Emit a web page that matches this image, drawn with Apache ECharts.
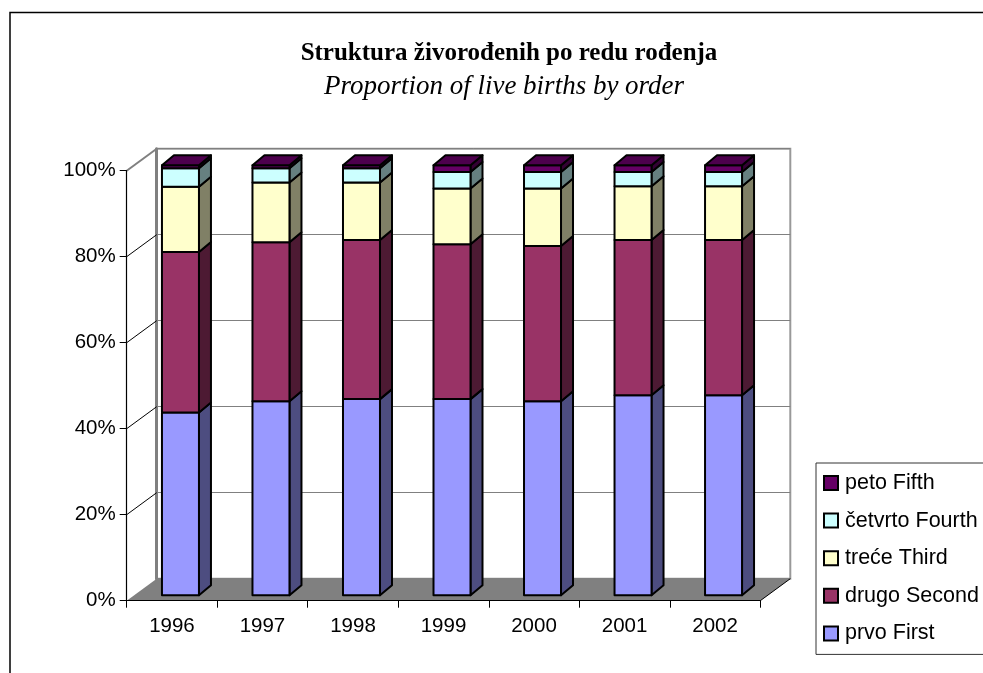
<!DOCTYPE html>
<html>
<head>
<meta charset="utf-8">
<title>Struktura živorođenih po redu rođenja</title>
<style>
html,body{margin:0;padding:0;background:#fff;overflow:hidden}
#main{width:983px;height:673px}
</style>
<script src="https://cdn.jsdelivr.net/npm/echarts@6/dist/echarts.min.js"></script>
</head>
<body>
<div id="main"></div>
<script>
// godine
var years = ['1996', '1997', '1998', '1999', '2000', '2001', '2002'];
// udio po redu rodjenja, %
var prvo = [42.5, 45.1, 45.6, 45.6, 45.1, 46.5, 46.5];
var drugo = [37.3, 37.0, 37.0, 36.0, 36.1, 36.1, 36.1];
var trece = [15.2, 13.9, 13.4, 13.0, 13.4, 12.5, 12.5];
var cetvrto = [4.3, 3.3, 3.3, 3.8, 3.8, 3.3, 3.3];
var peto = [0.7, 0.7, 0.7, 1.6, 1.6, 1.6, 1.6];
var valueTicks = [0, 20, 40, 60, 80, 100];

var barDefs = [
    {name: 'prvo First', values: prvo, color: '#9999ff', side: '#4d4d80', top: '#4d4d80'},
    {name: 'drugo Second', values: drugo, color: '#993366', side: '#4d1a33', top: '#4d1a33'},
    {name: 'treće Third', values: trece, color: '#ffffcc', side: '#808066', top: '#808066'},
    {name: 'četvrto Fourth', values: cetvrto, color: '#ccffff', side: '#668080', top: '#668080'},
    {name: 'peto Fifth', values: peto, color: '#660066', side: '#330033', top: '#4d004d'}
];

// 3d pomaci u pikselima
var wallDx = 30, wallDy = -22;
var barShiftX = 8.5, barShiftY = -5.5, barWidth = 37, barDx = 12, barDy = -10;

function barSeries(def, index) {
    var data = [];
    for (var i = 0; i < years.length; i++) {
        var low = 0;
        for (var j = 0; j < index; j++) {
            low += barDefs[j].values[i];
        }
        data.push([i, low, low + def.values[i]]);
    }
    return {
        name: def.name,
        type: 'custom',
        xAxisIndex: 0,
        yAxisIndex: 0,
        z: 3,
        silent: true,
        clip: false,
        itemStyle: {color: def.color, borderColor: '#000', borderWidth: 1.5},
        encode: {x: 0, y: [1, 2]},
        data: data,
        renderItem: function (params, api) {
            var lo = api.coord([api.value(0), api.value(1)]);
            var hi = api.coord([api.value(0), api.value(2)]);
            var x0 = lo[0] + barShiftX - barWidth / 2;
            var x1 = x0 + barWidth;
            var y0 = lo[1] + barShiftY;
            var y1 = hi[1] + barShiftY;
            var line = {stroke: '#000', lineWidth: 2, lineJoin: 'round'};
            var kids = [
                {type: 'polygon', shape: {points: [[x1, y0], [x1 + barDx, y0 + barDy], [x1 + barDx, y1 + barDy], [x1, y1]]},
                    style: Object.assign({fill: def.side}, line)},
                {type: 'polygon', shape: {points: [[x0, y0], [x1, y0], [x1, y1], [x0, y1]]},
                    style: Object.assign({fill: def.color}, line)}
            ];
            if (index == barDefs.length - 1) {
                kids.push({type: 'polygon', shape: {points: [[x0, y1], [x1, y1], [x1 + barDx, y1 + barDy], [x0 + barDx, y1 + barDy]]},
                    style: Object.assign({fill: def.top}, line)});
            }
            return {type: 'group', children: kids};
        }
    };
}

var legendNames = [];
for (var k = barDefs.length - 1; k >= 0; k--) {
    legendNames.push(barDefs[k].name);
}

var series = [
    // pod
    {
        type: 'custom',
        xAxisIndex: 0,
        yAxisIndex: 0,
        z: 1,
        silent: true,
        clip: false,
        data: [[0]],
        renderItem: function (params, api) {
            var half = api.size([1, 0])[0] / 2;
            var a = api.coord([0, 0]);
            var b = api.coord([years.length - 1, 0]);
            a = [a[0] - half, a[1]];
            b = [b[0] + half, b[1]];
            return {
                type: 'group',
                children: [
                    {type: 'polygon', shape: {points: [a, b, [b[0] + wallDx, b[1] + wallDy], [a[0] + wallDx, a[1] + wallDy]]},
                        style: {fill: '#808080'}},
                    {type: 'line', shape: {x1: b[0], y1: b[1], x2: b[0] + wallDx, y2: b[1] + wallDy},
                        style: {stroke: '#000', lineWidth: 1}}
                ]
            };
        }
    },
    // kose linije od osi do zida
    {
        type: 'custom',
        xAxisIndex: 0,
        yAxisIndex: 0,
        z: 2,
        silent: true,
        clip: false,
        data: valueTicks.slice(1).map(function (v) { return [0, v]; }),
        renderItem: function (params, api) {
            var half = api.size([1, 0])[0] / 2;
            var p = api.coord([0, api.value(1)]);
            var isTop = api.value(1) == 100;
            return {
                type: 'line',
                shape: {x1: p[0] - half, y1: p[1], x2: p[0] - half + wallDx, y2: p[1] + wallDy},
                style: {stroke: isTop ? '#808080' : '#000', lineWidth: isTop ? 2 : 1}
            };
        }
    }
].concat(barDefs.map(barSeries));

var option = {
    animation: false,
    backgroundColor: '#fff',
    title: [
        {
            text: 'Struktura živorođenih po redu rođenja',
            left: 504,
            top: 36,
            textAlign: 'center',
            textStyle: {fontFamily: 'Liberation Serif', fontSize: 25, fontWeight: 'bold', color: '#000'}
        },
        {
            text: 'Proportion of live births by order',
            left: 499,
            top: 68,
            textAlign: 'center',
            textStyle: {fontFamily: 'Liberation Serif', fontSize: 27, fontStyle: 'italic', fontWeight: 'normal', color: '#000'}
        }
    ],
    legend: {
        orient: 'vertical',
        left: 816,
        top: 463,
        padding: [9, 30, 10, 7],
        data: legendNames,
        icon: 'rect',
        itemWidth: 14,
        itemHeight: 14,
        itemGap: 15.6,
        selectedMode: false,
        borderColor: '#333',
        borderWidth: 1,
        textStyle: {fontFamily: 'Liberation Sans', fontSize: 21.5, color: '#000', lineHeight: 20, padding: [0, 0, 0, 2]}
    },
    grid: [
        {left: 126.7, top: 170.7, width: 633.6, height: 430, show: false},
        {left: 156.7, top: 148.7, width: 633.6, height: 430, show: true, backgroundColor: '#fff', borderColor: '#999', borderWidth: 2}
    ],
    xAxis: [
        {
            type: 'category',
            gridIndex: 0,
            data: years,
            z: 5,
            axisLine: {onZero: false, lineStyle: {color: '#000', width: 1.2}},
            axisTick: {show: true, length: 7, alignWithLabel: false, lineStyle: {color: '#000', width: 1}},
            axisLabel: {margin: 15, fontFamily: 'Liberation Sans', fontSize: 20.5, color: '#000'}
        },
        {
            type: 'category',
            gridIndex: 1,
            data: years,
            axisLine: {show: false},
            axisTick: {show: false},
            axisLabel: {show: false},
            splitLine: {show: false}
        }
    ],
    yAxis: [
        {
            type: 'value',
            gridIndex: 0,
            min: 0,
            max: 100,
            interval: 20,
            z: 5,
            axisLine: {show: true, lineStyle: {color: '#000', width: 1.2}},
            axisTick: {show: true, length: 7, lineStyle: {color: '#000', width: 1}},
            axisLabel: {margin: 11, padding: [0, 0, 2, 0], formatter: '{value}%', fontFamily: 'Liberation Sans', fontSize: 20.5, color: '#000'},
            splitLine: {show: false}
        },
        {
            type: 'value',
            gridIndex: 1,
            min: 0,
            max: 100,
            interval: 20,
            axisLine: {show: true, lineStyle: {color: '#808080', width: 3}},
            axisTick: {show: false},
            axisLabel: {show: false},
            splitLine: {show: true, lineStyle: {color: '#808080', width: 1}}
        }
    ],
    graphic: [
        {
            // okvir grafikona, desno i dolje ide preko ruba
            type: 'rect',
            shape: {x: 10, y: 12.5, width: 1000, height: 700},
            style: {fill: 'none', stroke: '#000', lineWidth: 1.5},
            silent: true,
            z: -1
        }
    ],
    series: series
};

var myChart = echarts.init(document.getElementById('main'));
myChart.setOption(option);
</script>
</body>
</html>
